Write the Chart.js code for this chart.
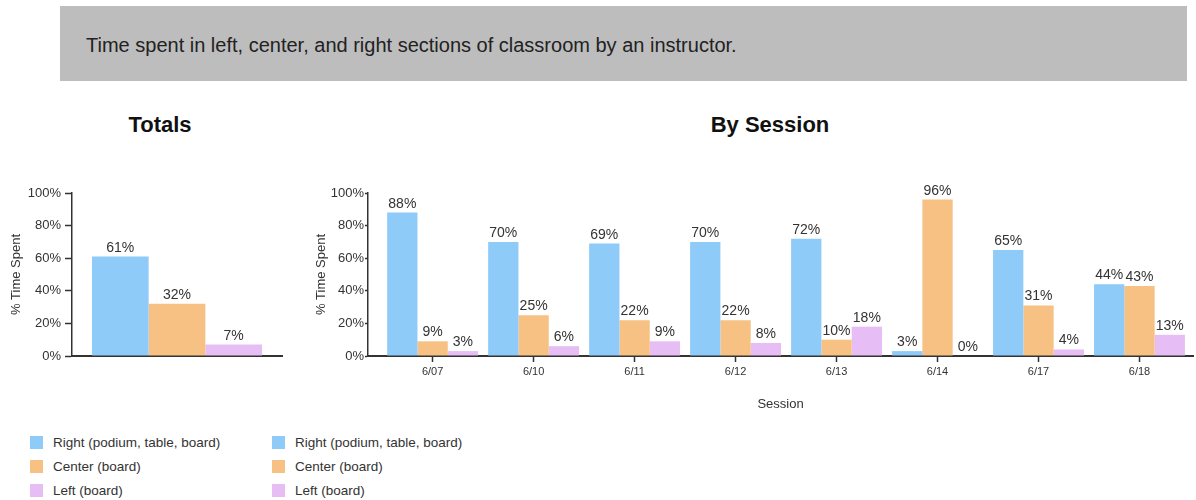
<!DOCTYPE html>
<html>
<head>
<meta charset="utf-8">
<script src="https://cdn.jsdelivr.net/npm/chart.js@4"></script>
<style>
  body { margin: 0; background: #fff; font-family: "Liberation Sans", Arial, sans-serif; color: #333; }
  #page { position: relative; width: 1196px; height: 500px; overflow: hidden; }
  #banner { position: absolute; left: 60px; top: 6px; width: 1127px; height: 75px; background: #bdbdbd;
            font-size: 20px; line-height: 79px; padding-left: 26px; box-sizing: border-box; color: #222; }
  .heading { position: absolute; top: 112px; font-size: 22px; font-weight: bold; color: #111; transform: translateX(-50%); white-space: nowrap; }
  .box { position: absolute; }
  .legend { position: absolute; top: 433px; font-size: 13.5px; color: #333; }
  .legend div { height: 24px; line-height: 20px; white-space: nowrap; }
  .legend span { display: inline-block; width: 13px; height: 13px; vertical-align: -2px; margin-right: 10px; }
</style>
</head>
<body>
<div id="page">
  <div id="banner">Time spent in left, center, and right sections of classroom by an instructor.</div>
  <div class="heading" style="left:160px">Totals</div>
  <div class="heading" style="left:770px">By Session</div>
  <div class="box" style="left:0;top:180px;width:290px;height:190px"><canvas id="chartTotals"></canvas></div>
  <div class="box" style="left:290px;top:180px;width:906px;height:236px"><canvas id="chartSessions"></canvas></div>
  <div class="legend" id="legendTotals" style="left:30px"></div>
  <div class="legend" id="legendSessions" style="left:272px"></div>
</div>
<script>
// Data
const seriesNames = ["Right (podium, table, board)", "Center (board)", "Left (board)"];
const seriesColors = ["#8ecbf9", "#f6c182", "#e6bdf4"];

const totalRight = [61];
const totalCenter = [32];
const totalLeft = [7];

const sessions = ["6/07", "6/10", "6/11", "6/12", "6/13", "6/14", "6/17", "6/18"];
const sessionRight = [88, 70, 69, 70, 72, 3, 65, 44];
const sessionCenter = [9, 25, 22, 22, 10, 96, 31, 43];
const sessionLeft = [3, 6, 9, 8, 18, 0, 4, 13];

const yTicks = [0, 20, 40, 60, 80, 100];

const FONT = '"Liberation Sans", Arial, sans-serif';
Chart.defaults.font.family = FONT;
Chart.defaults.color = "#333";

// Tulis angka di atas batang
const valueLabels = {
  id: "valueLabels",
  afterDatasetsDraw(chart) {
    const ctx = chart.ctx;
    ctx.save();
    ctx.font = "14px " + FONT;
    ctx.fillStyle = "#333";
    ctx.textAlign = "center";
    ctx.textBaseline = "alphabetic";
    chart.data.datasets.forEach((ds, i) => {
      chart.getDatasetMeta(i).data.forEach((bar, j) => {
        ctx.fillText(ds.data[j] + "%", bar.x, bar.y - 5);
      });
    });
    ctx.restore();
  }
};

function makeDatasets(values) {
  return values.map((v, i) => ({
    label: seriesNames[i],
    data: v,
    backgroundColor: seriesColors[i],
    borderWidth: 0,
    barPercentage: 1
  }));
}

function yScale(width, tickLen, pad) {
  return {
    min: 0,
    max: 100,
    afterBuildTicks: s => { s.ticks = yTicks.map(v => ({ value: v })); },
    afterFit: s => { s.width = width; },
    ticks: { callback: v => v + "%", font: { size: 13 }, color: "#333", padding: pad },
    grid: { drawOnChartArea: false, tickLength: tickLen, color: "#333", tickWidth: 1.5 },
    border: { color: "#333", width: 1.5 },
    title: { display: true, text: "% Time Spent", font: { size: 13 }, color: "#333" }
  };
}

// Totals
new Chart(document.getElementById("chartTotals"), {
  type: "bar",
  data: {
    labels: [""],
    datasets: makeDatasets([totalRight, totalCenter, totalLeft]).map(d => ({ ...d, categoryPercentage: 0.81 }))
  },
  options: {
    responsive: true,
    maintainAspectRatio: false,
    animation: false,
    layout: { padding: { top: 13, left: 5, right: 8, bottom: 0 } },
    plugins: { legend: { display: false }, tooltip: { enabled: false } },
    scales: {
      x: {
        afterFit: s => { s.height = 14; },
        ticks: { display: false },
        grid: { drawOnChartArea: false, tickLength: 0, color: "#333" },
        border: { color: "#333", width: 2 }
      },
      y: yScale(67, 7, 4)
    }
  },
  plugins: [valueLabels]
});

// By Session
new Chart(document.getElementById("chartSessions"), {
  type: "bar",
  data: {
    labels: sessions,
    datasets: makeDatasets([sessionRight, sessionCenter, sessionLeft]).map(d => ({ ...d, categoryPercentage: 0.9 }))
  },
  options: {
    responsive: true,
    maintainAspectRatio: false,
    animation: false,
    layout: { padding: { top: 13, left: 20, right: 3, bottom: 0 } },
    plugins: { legend: { display: false }, tooltip: { enabled: false } },
    scales: {
      x: {
        // sedikit ruang kosong di kiri sebelum kategori pertama
        afterBuildTicks: s => { s._startValue -= 0.14; s._valueRange += 0.17; },
        afterFit: s => { s.height = 60; },
        ticks: { font: { size: 11 }, color: "#333", padding: 3, maxRotation: 0 },
        grid: { offset: false, drawOnChartArea: false, tickLength: 6, color: "#333", tickWidth: 1.5 },
        border: { color: "#333", width: 2 },
        title: { display: true, text: "Session", font: { size: 13 }, color: "#333" }
      },
      y: yScale(58, 3, 1)
    }
  },
  plugins: [valueLabels]
});

// Legend HTML
function buildLegend(id) {
  const el = document.getElementById(id);
  seriesNames.forEach((name, i) => {
    const row = document.createElement("div");
    const sw = document.createElement("span");
    sw.style.background = seriesColors[i];
    row.appendChild(sw);
    row.appendChild(document.createTextNode(name));
    el.appendChild(row);
  });
}
buildLegend("legendTotals");
buildLegend("legendSessions");
</script>
</body>
</html>
